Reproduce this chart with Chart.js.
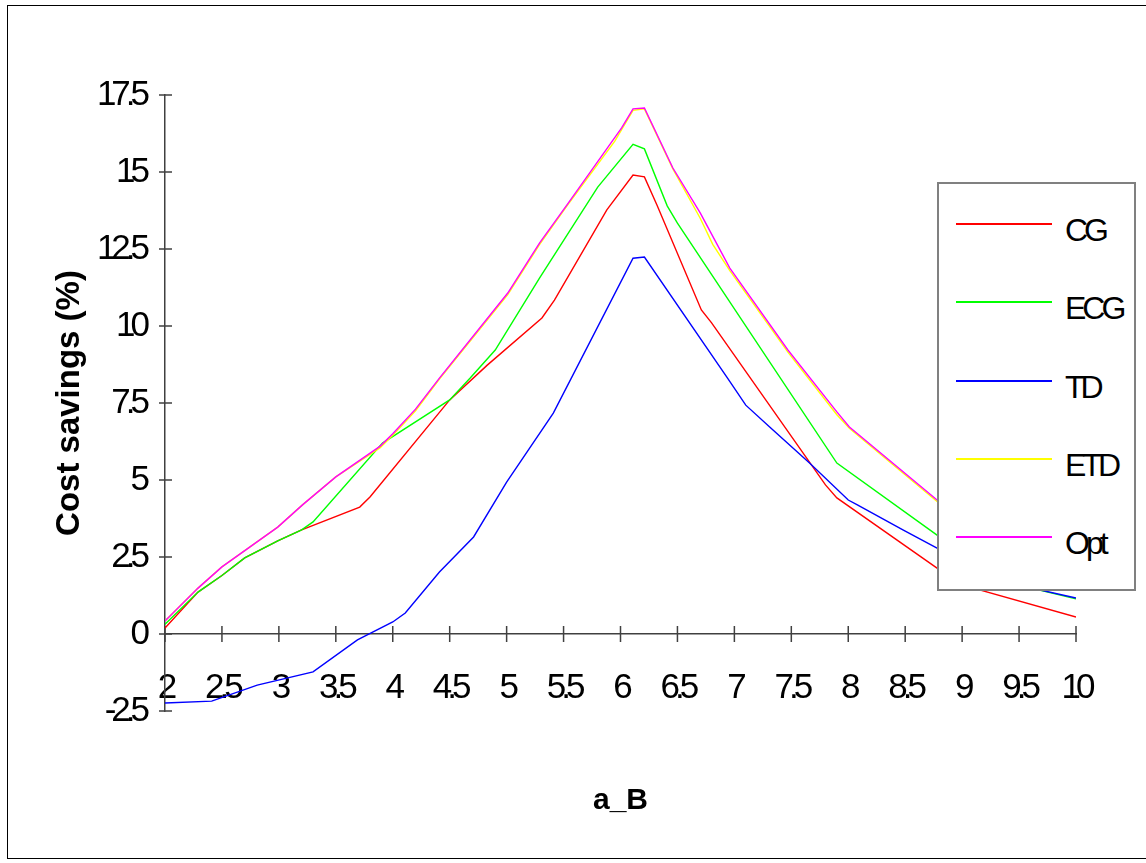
<!DOCTYPE html>
<html><head><meta charset="utf-8">
<script src="https://cdn.jsdelivr.net/npm/chart.js@4"></script>
<style>
html,body{margin:0;padding:0;background:#fff;}
#wrap{position:relative;width:1146px;height:863px;overflow:hidden;}
#c{position:absolute;left:0;top:0;}
#frame{position:absolute;left:7px;top:5px;width:1160px;height:854px;border:1.5px solid #000;box-sizing:border-box;pointer-events:none;}
#legend{position:absolute;left:937px;top:182px;width:199px;height:409px;border:2px solid #808080;box-sizing:border-box;background:#fff;}
.row{position:absolute;left:0;width:100%;height:0;}
.sw{position:absolute;left:17px;width:96px;height:2px;top:-1px;}
.lb{position:absolute;left:126px;top:-13px;font-family:'Liberation Sans',Arial,sans-serif;font-size:32px;letter-spacing:-4px;line-height:38px;color:#000;white-space:nowrap;}
</style>
</head>
<body>
<div id="wrap">
<canvas id="c" width="1146" height="863"></canvas>
<div id="legend"></div>
<div id="frame"></div>
</div>
<script>
// ---- data ----
const xTickValues = [2,2.5,3,3.5,4,4.5,5,5.5,6,6.5,7,7.5,8,8.5,9,9.5,10];
const xTickLabels = ['2','2.5','3','3.5','4','4.5','5','5.5','6','6.5','7','7.5','8','8.5','9','9.5','10'];
const yTickValues = [-2.5,0,2.5,5,7.5,10,12.5,15,17.5];
const yTickLabels = ['-2.5','0','2.5','5','7.5','10','12.5','15','17.5'];

const seriesNames  = ['CG','ECG','TD','ETD','Opt'];
const seriesColors = ['#ff0000','#00ff00','#0000ff','#ffff00','#ff00ff'];

const cgX = [2, 2.29, 2.5, 2.7, 2.99, 3.2, 3.71, 3.8, 4.5, 4.83, 5.31, 5.42, 5.88, 6.11, 6.21, 6.32, 6.71, 6.8, 7.8, 7.9, 8.78, 8.99, 10];
const cgY = [0.19, 1.36, 1.9, 2.47, 3.02, 3.38, 4.12, 4.45, 7.6, 8.73, 10.26, 10.84, 13.77, 14.9, 14.84, 13.93, 10.52, 10.1, 4.84, 4.42, 2.14, 1.6, 0.55];

const ecgX = [2, 2.29, 2.5, 2.7, 2.99, 3.2, 3.3, 3.91, 4.5, 4.68, 4.9, 5.29, 5.8, 6.11, 6.21, 6.41, 6.5, 7.9, 8.78, 9.35, 10];
const ecgY = [0.32, 1.36, 1.9, 2.47, 3.02, 3.38, 3.64, 6.2, 7.6, 8.31, 9.22, 11.56, 14.51, 15.9, 15.75, 13.9, 13.34, 5.55, 3.21, 1.72, 1.14];

const tdX = [2, 2.41, 2.81, 3.3, 3.69, 4.0, 4.11, 4.41, 4.71, 5.0, 5.41, 6.11, 6.21, 6.94, 7.1, 7.31, 7.66, 8.0, 8.08, 8.48, 8.78, 9.3, 10];
const tdY = [-2.24, -2.18, -1.66, -1.23, -0.19, 0.39, 0.68, 2.01, 3.15, 4.93, 7.17, 12.2, 12.24, 8.31, 7.43, 6.72, 5.55, 4.35, 4.19, 3.38, 2.79, 1.75, 1.17];

const etdX = [2, 2.29, 2.5, 2.99, 3.21, 3.5, 3.89, 4.0, 4.2, 4.41, 5.01, 5.29, 5.53, 5.95, 6.11, 6.21, 6.46, 6.7, 6.81, 6.96, 7.47, 7.9, 8.01, 8.78, 9.2, 10];
const etdY = [0.42, 1.49, 2.18, 3.47, 4.2, 5.1, 6.05, 6.45, 7.25, 8.28, 11.02, 12.65, 13.9, 16.0, 17.0, 17.05, 15.1, 13.5, 12.65, 11.8, 9.15, 7.12, 6.68, 4.3, 3.0, 1.6];

const optX = [2, 2.29, 2.5, 2.99, 3.21, 3.5, 3.89, 4.0, 4.2, 4.41, 5.01, 5.29, 5.53, 6.01, 6.11, 6.21, 6.46, 6.7, 6.96, 7.47, 7.9, 8.01, 8.78, 9.2, 10];
const optY = [0.42, 1.49, 2.18, 3.47, 4.2, 5.1, 6.1, 6.5, 7.3, 8.31, 11.07, 12.7, 13.93, 16.43, 17.05, 17.08, 15.13, 13.67, 11.88, 9.22, 7.21, 6.72, 4.35, 3.05, 1.65];

const seriesX = [cgX, ecgX, tdX, etdX, optX];
const seriesY = [cgY, ecgY, tdY, etdY, optY];

// ---- condensed tick labels ----
const origDrawLabels = Chart.Scale.prototype.drawLabels;
Chart.Scale.prototype.drawLabels = function(area){
  this.ctx.save();
  this.ctx.letterSpacing = '-5px';
  origDrawLabels.call(this, area);
  this.ctx.restore();
};

const crossTicks = {
  id: 'crossTicks',
  beforeDatasetsDraw(chart){
    const {ctx, scales:{x, y}, chartArea} = chart;
    const y0 = y.getPixelForValue(0);
    const x0 = chartArea.left;
    ctx.save();
    ctx.strokeStyle = '#404040';
    ctx.lineWidth = 1.5;
    ctx.beginPath();
    x.ticks.forEach(t => { const px = x.getPixelForValue(t.value); ctx.moveTo(px, y0-8); ctx.lineTo(px, y0+8); });
    y.ticks.forEach(t => { const py = y.getPixelForValue(t.value); ctx.moveTo(x0-6, py); ctx.lineTo(x0+7, py); });
    ctx.stroke();
    ctx.restore();
  }
};

const datasets = seriesNames.map((name, i) => ({
  label: name,
  data: seriesX[i].map((xv, j) => ({x: xv, y: seriesY[i][j]})),
  borderColor: seriesColors[i],
  backgroundColor: seriesColors[i],
  borderWidth: 1.4,
  pointRadius: 0,
  tension: 0,
  fill: false,
  order: seriesNames.length - i
}));

new Chart(document.getElementById('c'), {
  type: 'line',
  data: { datasets },
  options: {
    responsive: false,
    animation: false,
    events: [],
    layout: { padding: { top: 95, left: 0, right: 70, bottom: 44 } },
    scales: {
      x: {
        type: 'linear', min: 2, max: 10,
        position: { y: 0 },
        afterBuildTicks: s => { s.ticks = xTickValues.map(v => ({value: v})); },
        ticks: { autoSkip: false, maxRotation: 0, minRotation: 0, padding: 33, color: '#000',
                 font: { family: 'Liberation Sans', size: 35 },
                 callback: (v, i) => xTickLabels[i] },
        grid: { display: true, drawOnChartArea: false, drawTicks: false },
        border: { display: true, color: '#404040', width: 1.5 },
        afterFit: s => { s.height = 0; }
      },
      y: {
        type: 'linear', min: -2.5, max: 17.5,
        afterBuildTicks: s => { s.ticks = yTickValues.map(v => ({value: v})); },
        ticks: { padding: 20, color: '#000', font: { family: 'Liberation Sans', size: 35 },
                 callback: (v, i) => yTickLabels[i] },
        grid: { display: true, drawOnChartArea: false, drawTicks: false },
        border: { display: true, color: '#404040', width: 1.5 },
        title: { display: true, text: 'Cost savings (%)', color: '#000',
                 font: { family: 'Liberation Sans', size: 33, weight: 'bold' },
                 padding: { top: 50, bottom: 0 } },
        afterFit: s => { s.width = 165; }
      }
    },
    plugins: {
      legend: { display: false },
      tooltip: { enabled: false },
      title: { display: true, text: 'a_B', position: 'bottom', fullSize: false, color: '#000',
               font: { family: 'Liberation Sans', size: 30, weight: 'bold' },
               padding: { top: 72, bottom: 0 } }
    }
  },
  plugins: [crossTicks]
});

// ---- legend (HTML text) ----
const legend = document.getElementById('legend');
seriesNames.forEach((name, i) => {
  const row = document.createElement('div');
  row.className = 'row';
  row.style.top = (40 + i * 78.25) + 'px';
  const sw = document.createElement('div');
  sw.className = 'sw';
  sw.style.background = seriesColors[i];
  const lb = document.createElement('span');
  lb.className = 'lb';
  lb.textContent = name;
  row.appendChild(sw); row.appendChild(lb);
  legend.appendChild(row);
});
</script>
</body></html>
